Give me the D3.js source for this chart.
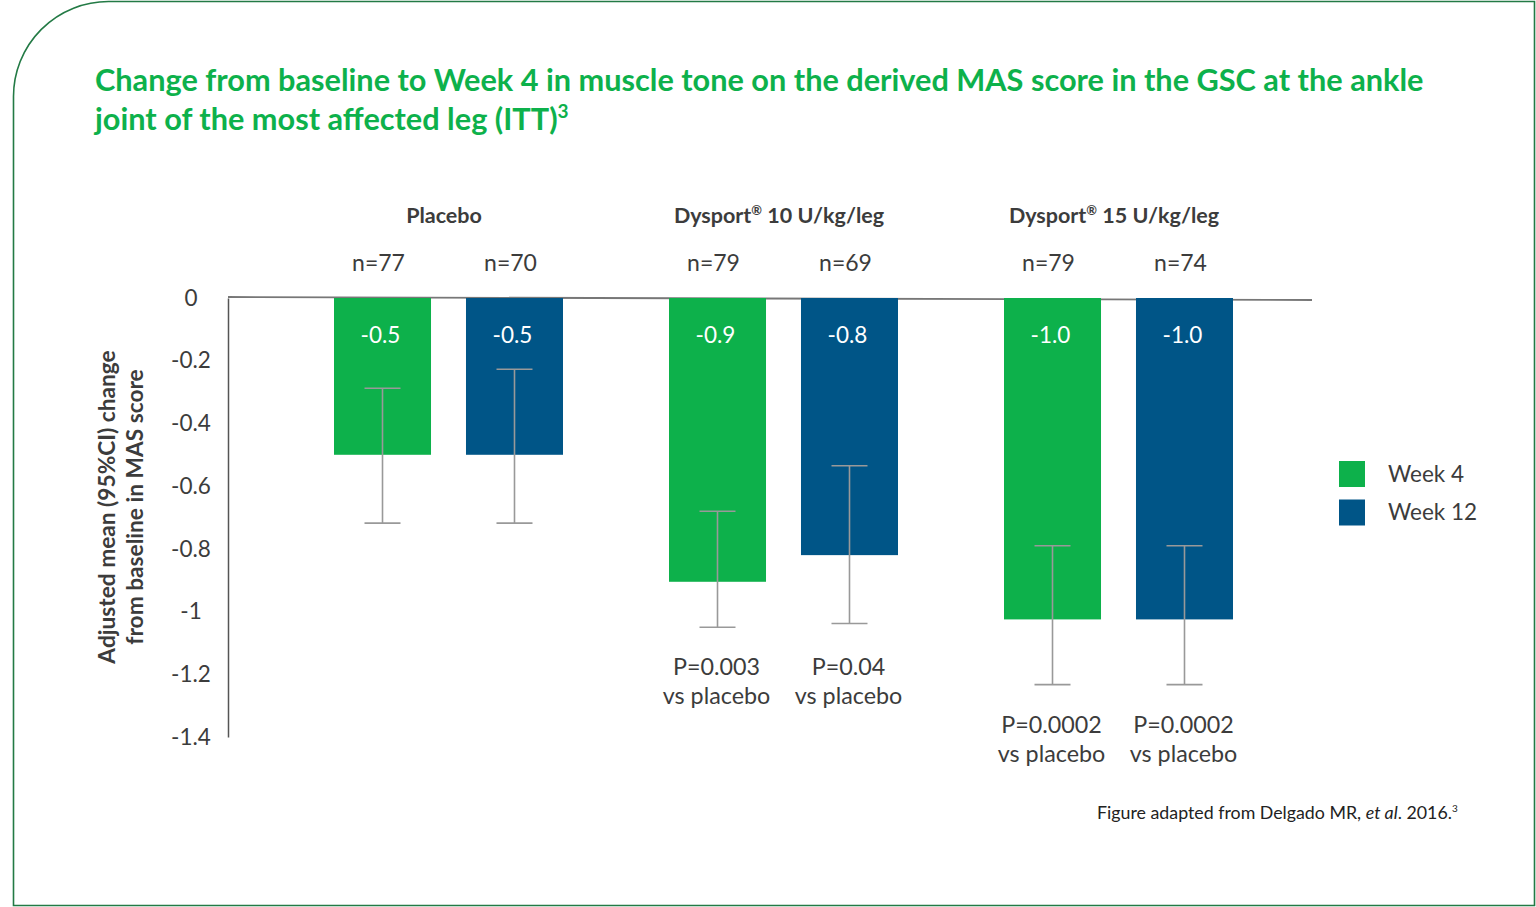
<!DOCTYPE html>
<html>
<head>
<meta charset="utf-8">
<script src="https://cdn.jsdelivr.net/npm/d3@7"></script>
<style>
  body { margin: 0; background: #fff; }
  svg text { font-family: Lato, "Open Sans", sans-serif; }
</style>
</head>
<body>
<svg id="chart" width="1536" height="907"></svg>
<script>
// data
let groups = ["Placebo", "Dysport® 10 U/kg/leg", "Dysport® 15 U/kg/leg"];
let keys = ["Week 4", "Week 12"];
let colors = ["#0db14b", "#005587"];
let means = [[-0.5, -0.5], [-0.905, -0.82], [-1.025, -1.025]];
let valueLabels = [["-0.5", "-0.5"], ["-0.9", "-0.8"], ["-1.0", "-1.0"]];
let ciUpper = [[-0.288, -0.227], [-0.68, -0.535], [-0.79, -0.79]];
let ciLower = [[-0.718, -0.718], [-1.05, -1.038], [-1.233, -1.233]];
let nLabels = [["n=77", "n=70"], ["n=79", "n=69"], ["n=79", "n=74"]];
let pLabels = [[null, null], ["P=0.003", "P=0.04"], ["P=0.0002", "P=0.0002"]];
let yTicks = [0, -0.2, -0.4, -0.6, -0.8, -1, -1.2, -1.4];

let svg = d3.select("#chart");
let textCol = "#3c3c3c";

// frame with rounded top-left corner
let fr = {l: 13.5, t: 1.5, r: 1534.5, b: 905.5, rad: 95};
svg.append("path")
  .attr("d", "M" + fr.l + "," + fr.b + " L" + fr.l + "," + (fr.t + fr.rad) +
    " A" + fr.rad + "," + fr.rad + " 0 0 1 " + (fr.l + fr.rad) + "," + fr.t +
    " L" + fr.r + "," + fr.t + " L" + fr.r + "," + fr.b + " Z")
  .attr("fill", "none")
  .attr("stroke", "#237a45")
  .attr("stroke-width", 1.6);

// title
let title = svg.append("text")
  .attr("x", 95).attr("y", 91)
  .attr("fill", "#0db14b")
  .attr("font-size", 30.7)
  .attr("font-weight", "bold");
title.append("tspan").text("Change from baseline to Week 4 in muscle tone on the derived MAS score in the GSC at the ankle");
title.append("tspan").attr("x", 95).attr("y", 130).text("joint of the most affected leg (ITT)");
title.append("tspan").attr("dy", -12).attr("font-size", 19).text("3");

let y = d3.scaleLinear().domain([0, -1.4]).range([298, 737]);
let x0 = d3.scaleBand().domain(groups).range([280.5, 1285.5]);
let x1 = d3.scaleBand().domain(keys).range([53.5, 282.5]).paddingInner(0.265);
let z = d3.scaleOrdinal().domain(keys).range(colors);

// y axis
let yAxis = svg.append("g")
  .attr("transform", "translate(228,0)")
  .call(d3.axisLeft(y).tickValues(yTicks).tickSize(0).tickPadding(37)
    .tickFormat(d => String(+d.toFixed(1))));
yAxis.select(".domain").attr("stroke", "#555").attr("stroke-width", 1.5);
yAxis.selectAll(".tick text")
  .attr("text-anchor", "middle")
  .attr("font-size", 22.5)
  .attr("fill", textCol)
  .style("font-family", "Lato, sans-serif");

// zero line
svg.append("line")
  .attr("x1", 228).attr("x2", 1312)
  .attr("y1", y(0) - 1).attr("y2", y(0) + 2)
  .attr("stroke", "#777").attr("stroke-width", 1.8);

// y axis title
let yt = svg.append("text")
  .attr("transform", "translate(115,507) rotate(-90)")
  .attr("text-anchor", "middle")
  .attr("font-size", 22.7)
  .attr("font-weight", "bold")
  .attr("fill", textCol);
yt.append("tspan").attr("x", 0).attr("y", 0).text("Adjusted mean (95%CI) change");
yt.append("tspan").attr("x", 0).attr("y", 28).text("from baseline in MAS score");

// bars
let rows = [];
groups.forEach((g, gi) => keys.forEach((k, ki) => {
  rows.push({g: g, k: k, v: means[gi][ki], lab: valueLabels[gi][ki],
    hi: ciUpper[gi][ki], lo: ciLower[gi][ki], groupLo: d3.min(ciLower[gi]),
    n: nLabels[gi][ki], p: pLabels[gi][ki]});
}));
let cx = d => x0(d.g) + x1(d.k) + x1.bandwidth() / 2;

let bar = svg.append("g").selectAll("g")
  .data(rows).enter().append("g");

bar.append("rect")
  .attr("x", d => x0(d.g) + x1(d.k))
  .attr("y", y(0))
  .attr("width", x1.bandwidth())
  .attr("height", d => y(d.v) - y(0))
  .attr("fill", d => z(d.k));

bar.append("text")
  .attr("x", d => cx(d) - 2).attr("y", 343)
  .attr("text-anchor", "middle")
  .attr("font-size", 22.5)
  .attr("fill", "#fff")
  .text(d => d.lab);

// error bars
let eb = bar.append("g").attr("stroke", "#999").attr("stroke-width", 1.6);
eb.append("line")
  .attr("x1", cx).attr("x2", cx)
  .attr("y1", d => y(d.hi)).attr("y2", d => y(d.lo));
eb.append("line")
  .attr("x1", d => cx(d) - 18).attr("x2", d => cx(d) + 18)
  .attr("y1", d => y(d.hi)).attr("y2", d => y(d.hi));
eb.append("line")
  .attr("x1", d => cx(d) - 18).attr("x2", d => cx(d) + 18)
  .attr("y1", d => y(d.lo)).attr("y2", d => y(d.lo));

// n labels
bar.append("text")
  .attr("x", d => cx(d) - 4).attr("y", 271)
  .attr("text-anchor", "middle")
  .attr("font-size", 23)
  .attr("fill", textCol)
  .text(d => d.n);

// p values
let pt = bar.filter(d => d.p).append("text")
  .attr("text-anchor", "middle")
  .attr("font-size", 23.3)
  .attr("fill", textCol);
pt.append("tspan").attr("x", d => cx(d) - 1).attr("y", d => y(d.groupLo) + 48).text(d => d.p);
pt.append("tspan").attr("x", d => cx(d) - 1).attr("y", d => y(d.groupLo) + 77).text("vs placebo");

// group labels
let gl = svg.append("g").selectAll("text")
  .data(groups).enter().append("text")
  .attr("x", d => x0(d) + x0.bandwidth() / 2 - 4)
  .attr("y", 223)
  .attr("text-anchor", "middle")
  .attr("font-size", 21.5)
  .attr("font-weight", "bold")
  .attr("fill", textCol);
gl.each(function(d) {
  let t = d3.select(this);
  let parts = d.split("®");
  t.append("tspan").text(parts[0]);
  if (parts.length > 1) {
    t.append("tspan").attr("dy", -8).attr("font-size", 13).text("®");
    t.append("tspan").attr("dy", 8).text(parts[1]);
  }
});

// legend
let legend = svg.append("g").selectAll("g")
  .data(keys).enter().append("g")
  .attr("transform", (d, i) => "translate(1339," + (461 + i * 38.5) + ")");
legend.append("rect")
  .attr("width", 26).attr("height", 26)
  .attr("fill", z);
legend.append("text")
  .attr("x", 49).attr("y", 13).attr("dy", "0.35em")
  .attr("font-size", 22.5)
  .attr("fill", textCol)
  .text(d => d);

// footnote
let fn = svg.append("text")
  .attr("x", 1097).attr("y", 819)
  .attr("font-size", 17.8)
  .attr("fill", "#222");
fn.append("tspan").text("Figure adapted from Delgado MR, ");
fn.append("tspan").attr("font-style", "italic").text("et al");
fn.append("tspan").text(". 2016.");
fn.append("tspan").attr("dy", -7).attr("font-size", 10).text("3");
</script>
</body>
</html>
